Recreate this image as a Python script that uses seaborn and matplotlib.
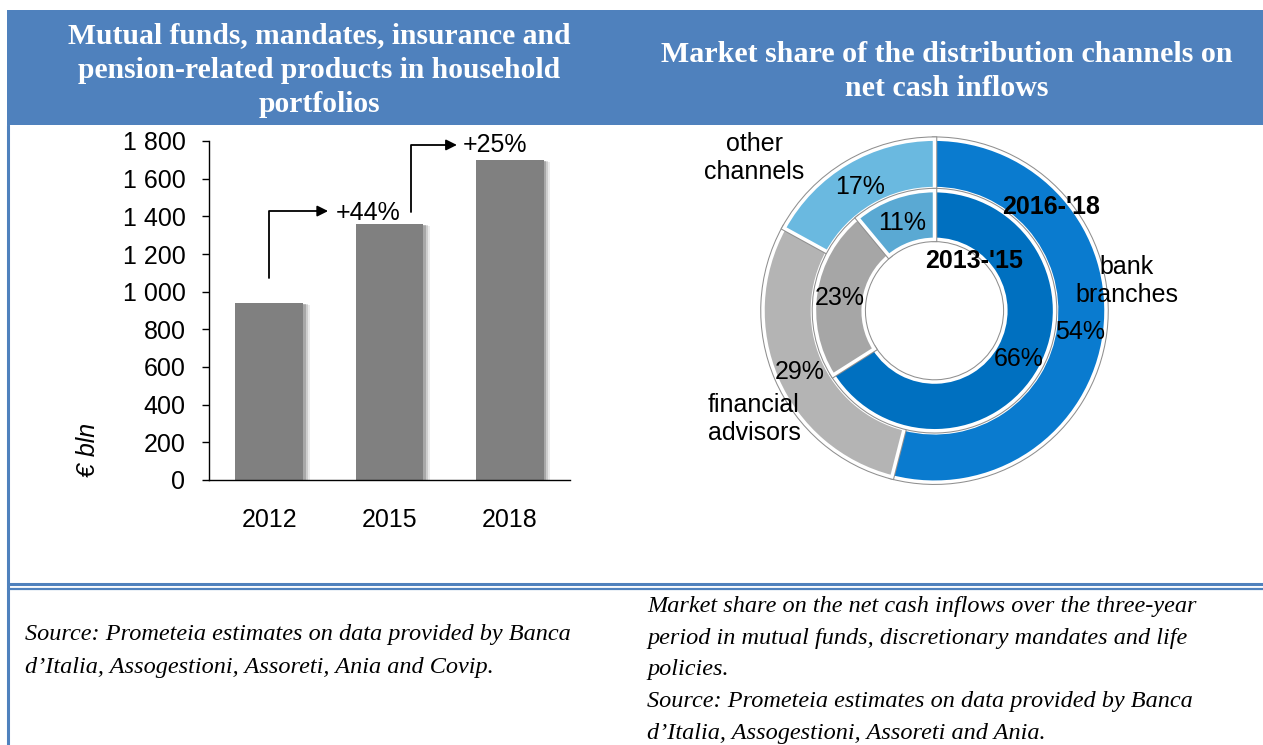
import matplotlib
matplotlib.use("Agg")
import matplotlib.patheffects as pe
import matplotlib.pyplot as plt
import pandas as pd
import seaborn as sns
from matplotlib.lines import Line2D
from matplotlib.patches import Rectangle
from matplotlib.ticker import FuncFormatter

W, H = 1263, 745

# left panel: assets in household portfolios (EUR bln)
years = ["2012", "2015", "2018"]
assets = [940, 1360, 1700]
growth_labels = ["+44%", "+25%"]

# right panel: market share of distribution channels (%)
channels = ["bank\nbranches", "financial\nadvisors", "other\nchannels"]
share_2016_18 = [54, 29, 17]
share_2013_15 = [66, 23, 11]
period_labels = ["2016-'18", "2013-'15"]

left_title = "Mutual funds, mandates, insurance and\npension-related products in household\nportfolios"
right_title = "Market share of the distribution channels on\nnet cash inflows"
left_note = ("Source: Prometeia estimates on data provided by Banca\n"
             "d\u2019Italia, Assogestioni, Assoreti, Ania and Covip.")
right_note = ("Market share on the net cash inflows over the three-year\n"
              "period in mutual funds, discretionary mandates and life\n"
              "policies.\n"
              "Source: Prometeia estimates on data provided by Banca\n"
              "d\u2019Italia, Assogestioni, Assoreti and Ania.")

HEADER_BLUE = "#4F81BD"
BAR_GREY = "#808080"
outer_colors = ["#0A7BCF", "#B4B4B4", "#6AB9E0"]
inner_colors = ["#0070C0", "#A6A6A6", "#5AA9D3"]

sns.set_theme(style="white")
plt.rcParams["font.family"] = ["Liberation Sans", "DejaVu Sans"]
plt.rcParams["text.color"] = "black"

SERIF = ["Liberation Serif", "DejaVu Serif"]


def fx(px):
    return px / W


def fy(py):
    return 1 - py / H


fig = plt.figure(figsize=(W / 100, H / 100), dpi=100)

# header band, frame lines
fig.add_artist(Rectangle((fx(7), fy(125)), 1 - fx(7), (125 - 10) / H,
                         transform=fig.transFigure, facecolor=HEADER_BLUE,
                         edgecolor="none"))
fig.add_artist(Line2D([fx(8), fx(8)], [fy(125), 0], color=HEADER_BLUE, lw=2.2))
fig.add_artist(Line2D([fx(8), 1], [fy(584), fy(584)], color=HEADER_BLUE, lw=2.2))
fig.add_artist(Line2D([fx(8), 1], [fy(589), fy(589)], color=HEADER_BLUE, lw=1.6))

fig.text(fx(319), fy(70), left_title, ha="center", va="center", color="white",
         family=SERIF, weight="bold", size=21.3, linespacing=1.36)
fig.text(fx(947), fy(71.5), right_title, ha="center", va="center", color="white",
         family=SERIF, weight="bold", size=21.6, linespacing=1.38)

fig.text(fx(25), fy(651), left_note, ha="left", va="center", family=SERIF,
         style="italic", size=17.5, linespacing=1.78)
fig.text(fx(647), fy(670), right_note, ha="left", va="center", family=SERIF,
         style="italic", size=17.5, linespacing=1.68)

# ---- bar chart ----
ax = fig.add_axes([fx(209), fy(480), (570 - 209) / W, (480 - 141) / H])
df = pd.DataFrame({"year": years, "value": assets})
sns.barplot(data=df, x="year", y="value", color=BAR_GREY, saturation=1,
            width=0.56, linewidth=0, ax=ax)
for bar in ax.patches:
    bar.set_path_effects([
        pe.SimplePatchShadow(offset=(5, -1.5), shadow_rgbFace="black", alpha=0.08),
        pe.SimplePatchShadow(offset=(3.5, -1), shadow_rgbFace="black", alpha=0.12),
        pe.SimplePatchShadow(offset=(2, -0.5), shadow_rgbFace="black", alpha=0.18),
        pe.Normal(),
    ])

ax.set_xlim(-0.5, 2.5)
ax.set_ylim(0, 1800)
ax.set_yticks(range(0, 1801, 200))
ax.yaxis.set_major_formatter(FuncFormatter(lambda v, _: f"{int(v):,}".replace(",", " ")))
ax.set_xlabel("")
ax.set_ylabel("")
for side in ("top", "right"):
    ax.spines[side].set_visible(False)
for side in ("left", "bottom"):
    ax.spines[side].set_color("black")
    ax.spines[side].set_linewidth(1)
ax.tick_params(axis="y", left=True, length=5, width=1, color="black", pad=12,
               labelsize=18, labelcolor="black")
ax.tick_params(axis="x", bottom=False, pad=14, labelsize=18, labelcolor="black")

# growth arrows (elbow from one bar to the next)
arrow_specs = [((0.0, 1073), (0.49, 1428), (0.55, 1420)),
               ((1.18, 1423), (1.56, 1779), (1.61, 1779))]
for (start, end, txt), lab in zip(arrow_specs, growth_labels):
    ax.annotate("", xy=end, xytext=start,
                arrowprops=dict(arrowstyle="-|>", color="black", lw=1.3,
                                mutation_scale=16, shrinkA=0, shrinkB=0,
                                connectionstyle="angle,angleA=90,angleB=0,rad=0"))
    ax.text(txt[0], txt[1], lab, ha="left", va="center", size=18)

fig.text(fx(88), fy(450), "\u20ac bln", rotation=90, ha="center", va="center",
         style="italic", size=18)

# ---- donut chart ----
cx, cy, R = 934.5, 310.7, 171.5
ax2 = fig.add_axes([fx(cx - R), fy(cy + R), 2 * R / W, 2 * R / H])
edge = [pe.Stroke(linewidth=4, foreground="#8f8f8f"), pe.Normal()]

wo, to, ao = ax2.pie(share_2016_18, radius=1.0, colors=outer_colors, startangle=90,
                     counterclock=False, autopct=lambda p: f"{p:.0f}%",
                     pctdistance=0.855,
                     wedgeprops=dict(width=0.288, edgecolor="white", linewidth=2.5),
                     textprops=dict(size=18, color="black"))
wi, ti, ai = ax2.pie(share_2013_15, radius=0.70, colors=inner_colors, startangle=90,
                     counterclock=False, autopct=lambda p: f"{p:.0f}%",
                     pctdistance=0.797,
                     wedgeprops=dict(width=0.284, edgecolor="white", linewidth=2.5),
                     textprops=dict(size=18, color="black"))
for w in wo + wi:
    w.set_path_effects(edge)
for t in ao + ai:
    x, y = t.get_position()
    t.set_position((x, y - 0.015))

ax2.set_xlim(-1, 1)
ax2.set_ylim(-1, 1)
ax2.set_aspect("equal")
ax2.axis("off")

ax2.text(1.122, 0.173, channels[0], ha="center", va="center", size=18)
ax2.text(-1.321, -0.631, channels[1], ha="left", va="center", size=18,
         multialignment="left")
ax2.text(-1.052, 0.890, channels[2], ha="center", va="center", size=18)
ax2.text(0.679, 0.602, period_labels[0], ha="center", va="center", size=18,
         weight="bold")
ax2.text(0.230, 0.287, period_labels[1], ha="center", va="center", size=18,
         weight="bold")

fig.savefig("out.png", dpi=100)
plt.close(fig)
